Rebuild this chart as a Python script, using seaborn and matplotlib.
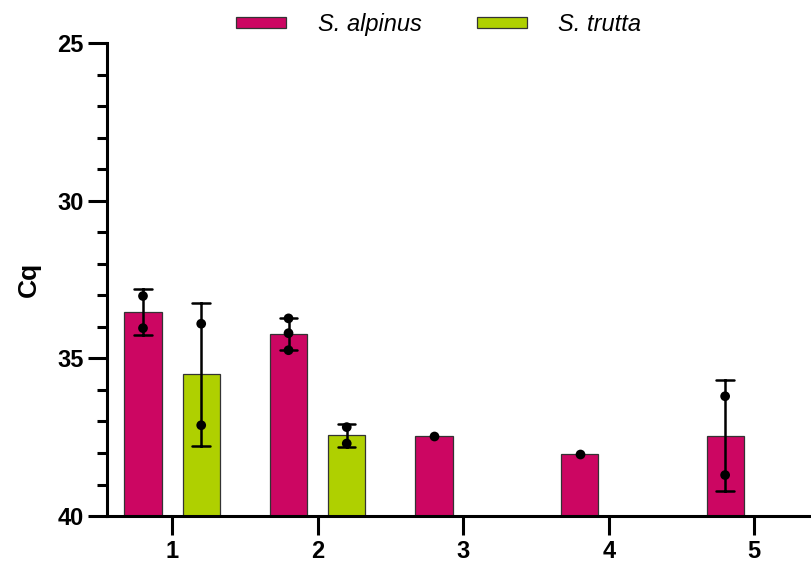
import numpy as np
import pandas as pd
import matplotlib
matplotlib.use("Agg")
import matplotlib.pyplot as plt
import seaborn as sns
from matplotlib.ticker import MultipleLocator, FixedLocator, FuncFormatter

# categories
species = ["S. alpinus", "S. trutta"]
sites = ["1", "2", "3", "4", "5"]

# Cq replicates
alpinus_site = ["1", "1", "2", "2", "2", "3", "4", "5", "5"]
alpinus_cq = [33.02, 34.04, 33.73, 34.2, 34.74, 37.46, 38.02, 36.2, 38.7]
trutta_site = ["1", "1", "2", "2"]
trutta_cq = [33.9, 37.12, 37.18, 37.7]

floor_cq = 40  # bars grow up from the 40-cycle line (axis is reversed)
cq_ticks = [25, 30, 35, 40]

colors = ["#CC0662", "#AFD000"]

df = pd.DataFrame({
    "species": [species[0]] * len(alpinus_cq) + [species[1]] * len(trutta_cq),
    "site": alpinus_site + trutta_site,
    "cq": alpinus_cq + trutta_cq,
})
# distance above the 40 line, so bars can start at the floor
df["depth"] = floor_cq - df["cq"]

sns.set_style("ticks")
plt.rcParams["font.family"] = ["Liberation Sans", "DejaVu Sans"]
plt.rcParams["text.color"] = "black"

fig = plt.figure(figsize=(8.11, 5.68), dpi=100)
ax = fig.add_axes([0.132, 0.0915, 0.868, 0.8325])

sns.barplot(data=df, x="site", y="depth", hue="species", order=sites,
            hue_order=species, palette=colors, saturation=1, errorbar="sd",
            capsize=0.24, width=0.8, gap=0.36, edgecolor="#333333",
            linewidth=0.9, err_kws={"color": "black", "linewidth": 1.8}, ax=ax)
sns.stripplot(data=df, x="site", y="depth", hue="species", order=sites,
              hue_order=species, palette=["black", "black"], dodge=True,
              jitter=False, size=7, legend=False, ax=ax)

handles, labels = ax.get_legend_handles_labels()
ax.get_legend().remove()
fig.legend(handles[:2], labels[:2], loc="center", bbox_to_anchor=(0.541, 0.957),
           ncol=2, frameon=False, prop={"style": "italic", "size": 17},
           handlelength=2.1, handleheight=0.4, handletextpad=1.35,
           columnspacing=2.35)

ax.set_xlim(-0.447, 4.39)
ax.set_ylim(0, floor_cq - cq_ticks[0])
ax.yaxis.set_major_locator(FixedLocator([floor_cq - t for t in cq_ticks]))
ax.yaxis.set_major_formatter(FuncFormatter(lambda v, p: f"{floor_cq - v:.0f}"))
ax.yaxis.set_minor_locator(MultipleLocator(1))

ax.set_xlabel("")
ax.set_ylabel("Cq", fontsize=19, fontweight="bold", color="black", labelpad=12)

sns.despine(ax=ax)
for s in ["left", "bottom"]:
    ax.spines[s].set_linewidth(2.2)
    ax.spines[s].set_color("black")

ax.tick_params(axis="both", which="major", length=14, width=2.2, color="black",
               labelcolor="black", labelsize=17, pad=3)
ax.tick_params(axis="y", which="minor", length=7.5, width=2.2, color="black")
for lab in ax.get_xticklabels() + ax.get_yticklabels():
    lab.set_fontweight("bold")

fig.savefig("out.png", dpi=100)
